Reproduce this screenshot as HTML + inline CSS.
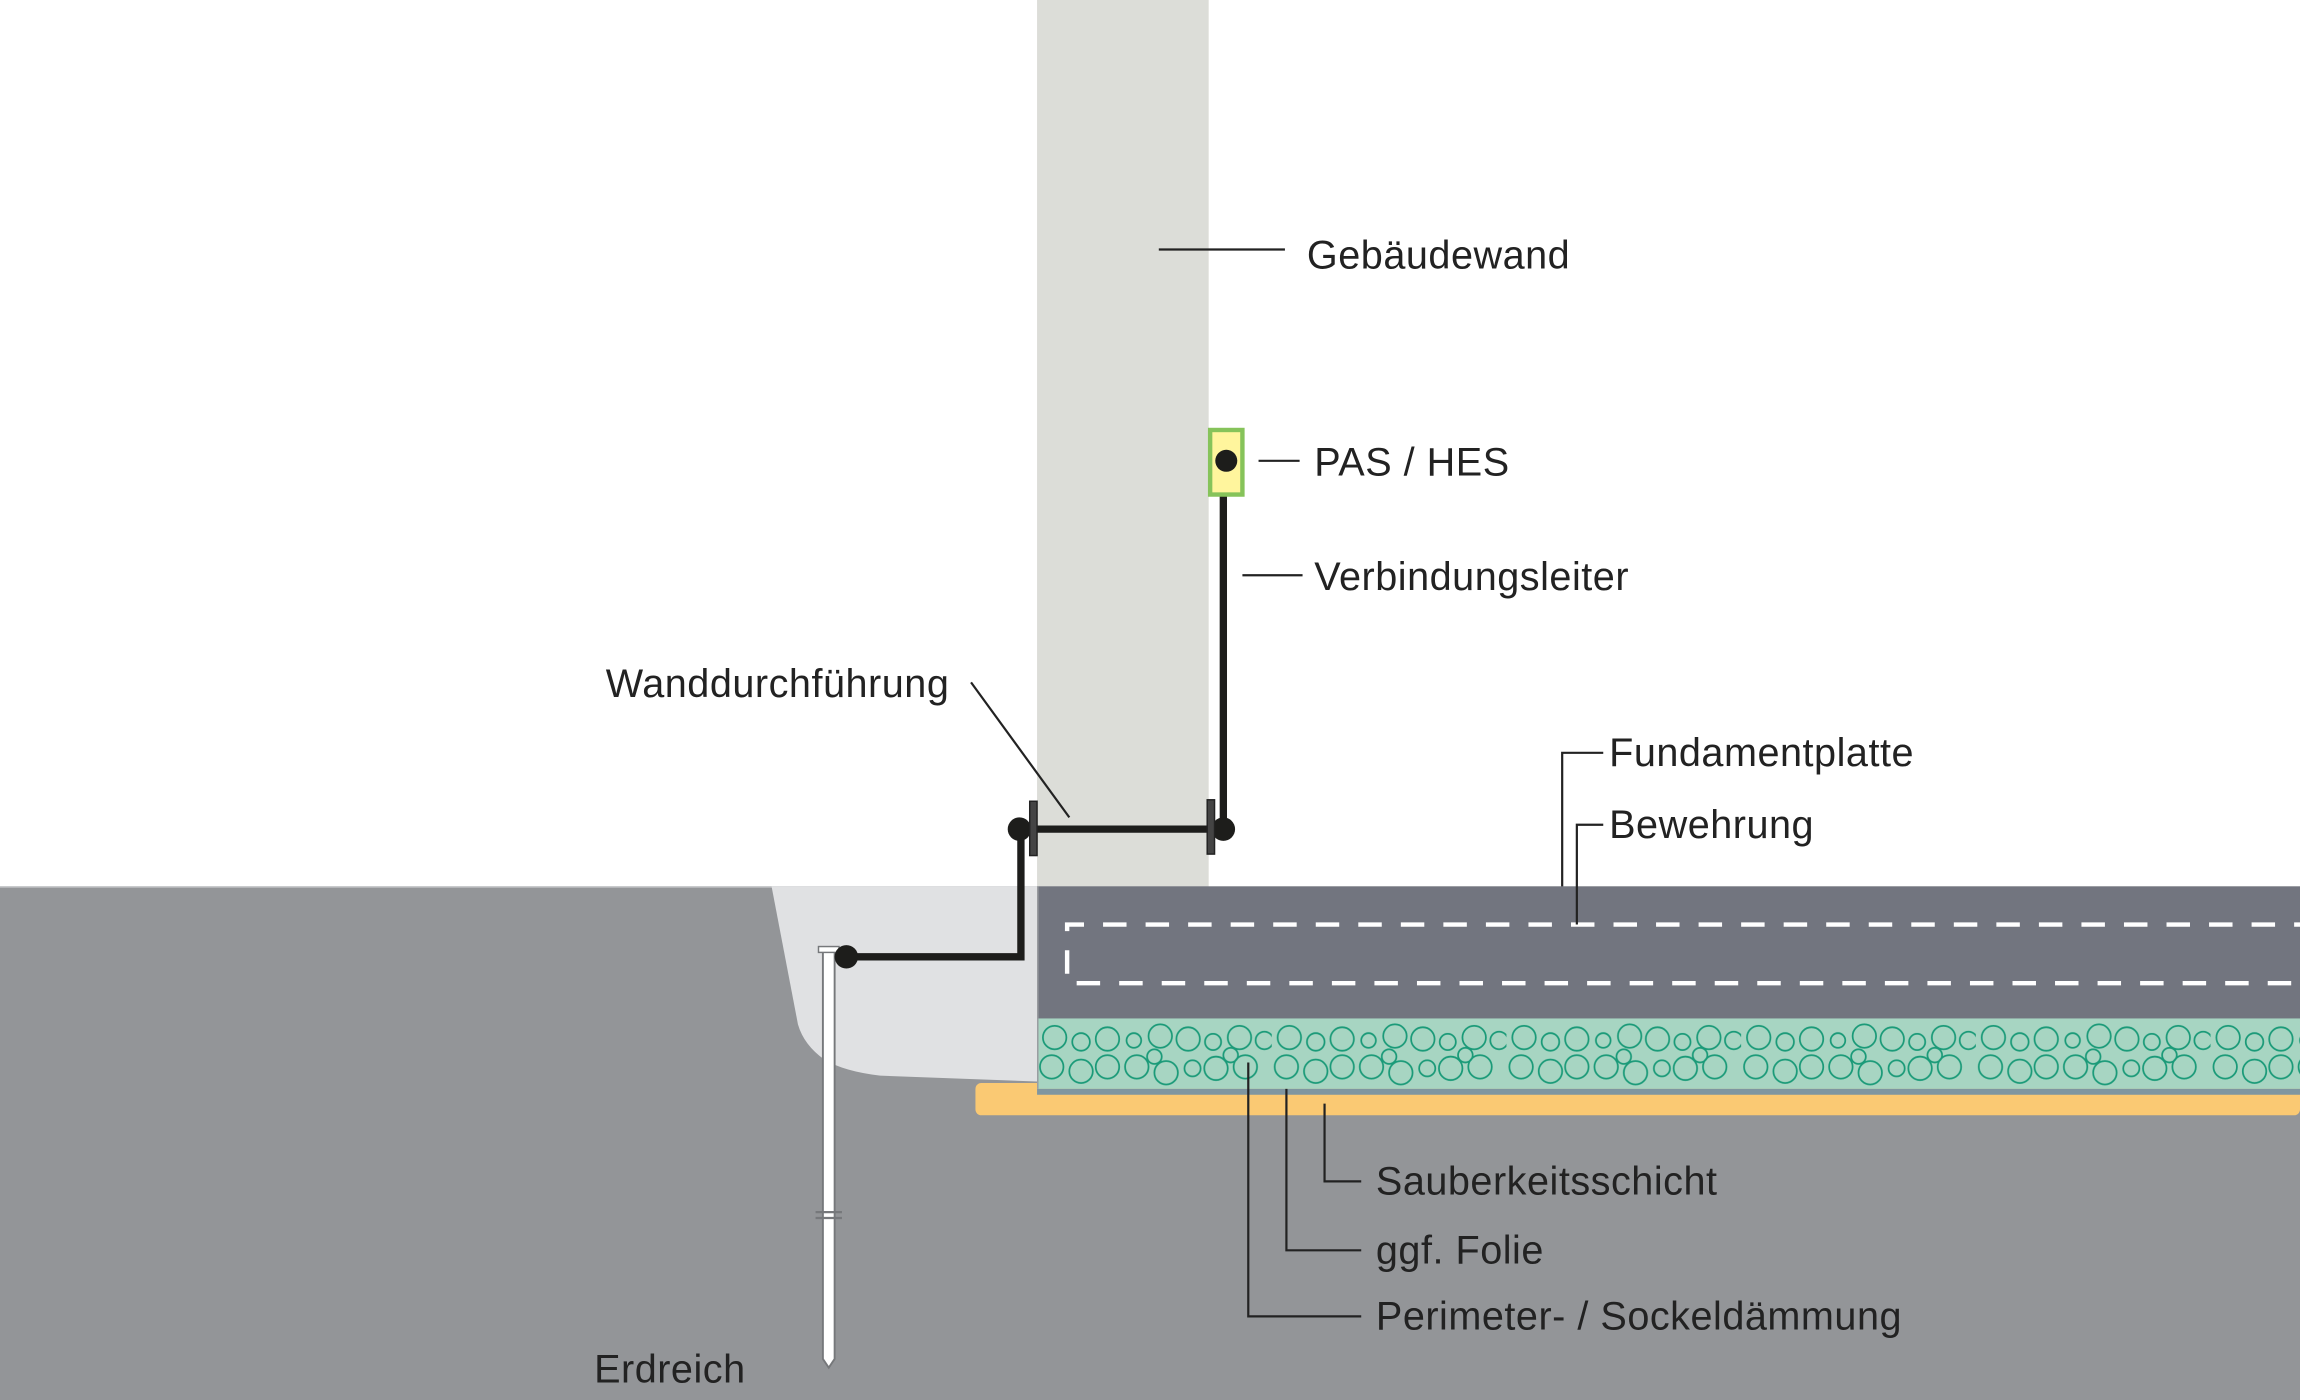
<!DOCTYPE html>
<html><head><meta charset="utf-8"><style>
html,body{margin:0;padding:0;background:#fff;}
svg{display:block;}
text{font-family:"Liberation Sans",sans-serif;font-size:27px;fill:#222;letter-spacing:0.35px;}
</style></head><body>
<svg width="2300" height="1400" viewBox="0 0 1568 954" preserveAspectRatio="none" xmlns="http://www.w3.org/2000/svg">
<defs>
<pattern id="bub" x="707" y="694" width="160" height="48" patternUnits="userSpaceOnUse">
<g fill="none" stroke="#1a9a78" stroke-width="1.2">
<circle cx="12" cy="13" r="8"/><circle cx="30" cy="16" r="6"/><circle cx="48" cy="14" r="8"/><circle cx="66" cy="15" r="5"/><circle cx="84" cy="12" r="8"/><circle cx="103" cy="14" r="8"/><circle cx="120" cy="16" r="5.5"/><circle cx="138" cy="13" r="8"/><circle cx="155" cy="15" r="6"/>
<circle cx="10" cy="33" r="8"/><circle cx="30" cy="36" r="8"/><circle cx="48" cy="33" r="8"/><circle cx="68" cy="33" r="8"/><circle cx="80" cy="26" r="5"/><circle cx="88" cy="37" r="8"/><circle cx="106" cy="34" r="5.5"/><circle cx="122" cy="34" r="8"/><circle cx="142" cy="33" r="8"/><circle cx="132" cy="25" r="5"/>
</g></pattern>
</defs>
<rect width="1568" height="954" fill="#fff"/>
<rect x="707" y="0" width="117" height="605" fill="#dcddd8"/>
<rect x="0" y="604" width="1568" height="350" fill="#939598"/>
<line x1="0" y1="604.5" x2="707" y2="604.5" stroke="#b8babd" stroke-width="1"/>
<path d="M526 604 L707 604 L707 737 L600 733 Q575 730 562 722 Q548 712 544 698 Z" fill="#e0e1e3"/>
<rect x="665" y="738" width="903" height="22" rx="4" fill="#fac973"/>
<rect x="707" y="604" width="861" height="91" fill="#72757f"/>
<rect x="707" y="694" width="861" height="48" fill="#a7d5c2"/>
<rect x="707" y="694" width="861" height="48" fill="url(#bub)"/>
<rect x="707" y="742" width="861" height="4" fill="#7f96a0"/>
<line x1="707.5" y1="604" x2="707.5" y2="742" stroke="#9a9ca0" stroke-width="1"/>
<path d="M1580 630 H727.5 V670 H1580" fill="none" stroke="#fff" stroke-width="3" stroke-dasharray="16 13"/>
<path d="M561 648 H569 V926 L565 932 L561 926 Z" fill="#fff" stroke="#76787b" stroke-width="1.3"/>
<rect x="558" y="645" width="14" height="4" fill="#fff" stroke="#76787b" stroke-width="1"/>
<line x1="556" y1="826" x2="574" y2="826" stroke="#76787b" stroke-width="1.5"/>
<line x1="556" y1="830" x2="574" y2="830" stroke="#76787b" stroke-width="1.5"/>
<path d="M577 652 H696 V565 H834 V338" fill="none" stroke="#1d1d1b" stroke-width="5"/>
<circle cx="577" cy="652" r="8" fill="#1d1d1b"/>
<circle cx="695" cy="565" r="8" fill="#1d1d1b"/>
<circle cx="834" cy="565" r="8" fill="#1d1d1b"/>
<rect x="702" y="546" width="5" height="37" fill="#444" stroke="#222" stroke-width="1"/>
<rect x="823" y="545" width="5" height="37" fill="#444" stroke="#222" stroke-width="1"/>
<rect x="825" y="293" width="22" height="44" fill="#fff59d" stroke="#86c35a" stroke-width="3"/>
<circle cx="836" cy="314" r="7.5" fill="#1d1d1b"/>
<g stroke="#222" stroke-width="1.5" fill="none">
<line x1="790" y1="170" x2="876" y2="170"/>
<line x1="858" y1="314" x2="886" y2="314"/>
<line x1="847" y1="392" x2="888" y2="392"/>
<line x1="662" y1="465" x2="729" y2="557"/>
<path d="M1065 604 V513 H1093"/>
<path d="M1075 630 V562 H1093"/>
<path d="M903 752 V805 H928"/>
<path d="M877 742 V852 H928"/>
<path d="M851 724 V897 H928"/>
</g>
<text x="891" y="183">Gebäudewand</text>
<text x="896" y="324">PAS / HES</text>
<text x="896" y="402">Verbindungsleiter</text>
<text x="413" y="475">Wanddurchführung</text>
<text x="1097" y="522">Fundamentplatte</text>
<text x="1097" y="571">Bewehrung</text>
<text x="938" y="814">Sauberkeitsschicht</text>
<text x="938" y="861">ggf. Folie</text>
<text x="938" y="906">Perimeter- / Sockeldämmung</text>
<text x="405" y="942">Erdreich</text>
</svg>
</body></html>
